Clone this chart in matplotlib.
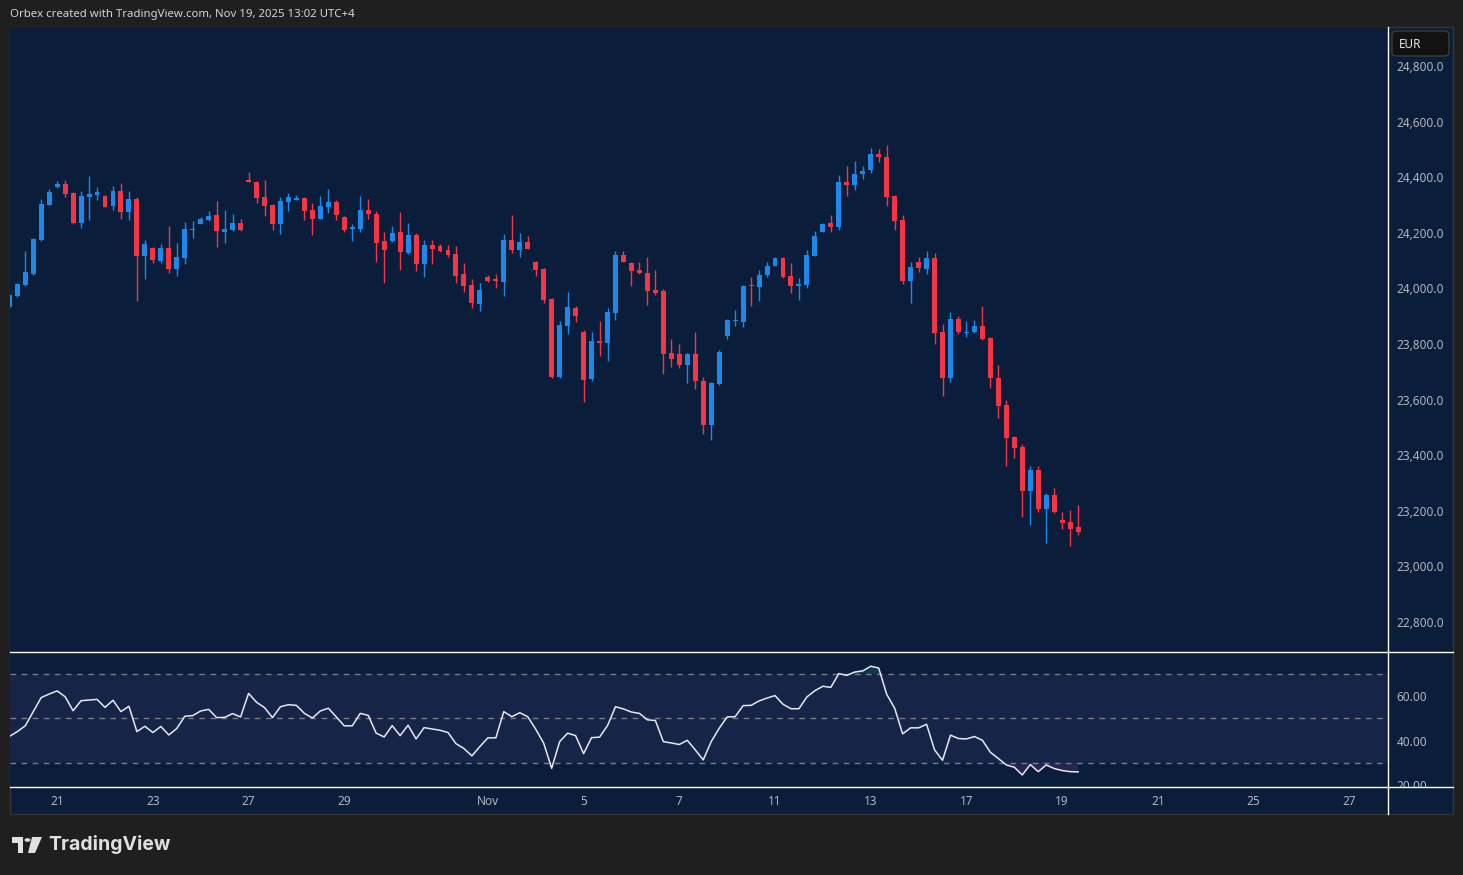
import numpy as np
import matplotlib
matplotlib.use("Agg")
import matplotlib.pyplot as plt
from matplotlib.patches import Rectangle, Polygon, Circle, FancyBboxPatch
from matplotlib.lines import Line2D

# 4h candles, 6 per trading day, starting Oct 20
opens = [23934, 23974, 24012, 24052, 24174, 24300, 24365, 24376, 24343, 24235,
         24329, 24336, 24332, 24296, 24350, 24275, 24322, 24117, 24145, 24099,
         24145, 24070, 24110, 24211, 24232, 24246, 24264, 24203, 24210, 24235,
         24390, 24383, 24329, 24300, 24232, 24311, 24318, 24325, 24282, 24250,
         24293, 24311, 24257, 24215, 24214, 24282, 24268, 24170, 24170, 24203,
         24127, 24192, 24088, 24156, 24152, 24138, 24124, 24052, 24012, 23944,
         24041, 24032, 24023, 24174, 24138, 24167, 24095, 24070, 23962, 23681,
         23865, 23930, 23843, 23674, 23809, 23804, 23912, 24120, 24091, 24066,
         24055, 23994, 23991, 23768, 23764, 23725, 23764, 23667, 23509, 23656,
         23829, 23881, 23879, 24011, 24005, 24048, 24081, 24109, 24045, 24010,
         24012, 24117, 24203, 24235, 24221, 24383, 24372, 24412, 24426, 24483,
         24473, 24332, 24246, 24027, 24095, 24070, 24109, 23843, 23678, 23890,
         23838, 23843, 23865, 23822, 23678, 23581, 23466, 23430, 23271, 23347,
         23207, 23257, 23167, 23160, 23142]
highs = [23980, 24019, 24135, 24180, 24322, 24358, 24386, 24390, 24347, 24350,
         24404, 24365, 24334, 24368, 24379, 24350, 24329, 24174, 24149, 24160,
         24224, 24163, 24239, 24242, 24257, 24278, 24314, 24282, 24268, 24250,
         24419, 24386, 24390, 24304, 24329, 24343, 24336, 24327, 24307, 24332,
         24358, 24318, 24260, 24232, 24332, 24322, 24278, 24203, 24224, 24275,
         24235, 24199, 24174, 24174, 24160, 24156, 24153, 24091, 24034, 24019,
         24048, 24052, 24196, 24264, 24199, 24188, 24097, 24072, 23966, 23883,
         23987, 23937, 23850, 23843, 23883, 23930, 24135, 24135, 24093, 24095,
         24113, 24066, 23998, 23818, 23800, 23766, 23843, 23681, 23662, 23778,
         23890, 23922, 24011, 24041, 24066, 24095, 24113, 24111, 24091, 24037,
         24138, 24207, 24235, 24264, 24408, 24440, 24458, 24440, 24505, 24501,
         24516, 24336, 24264, 24095, 24113, 24135, 24127, 23872, 23915, 23901,
         23883, 23886, 23937, 23825, 23725, 23599, 23468, 23440, 23361, 23361,
         23264, 23282, 23196, 23203, 23221]
lows = [23930, 23969, 24010, 24048, 24172, 24298, 24361, 24329, 24233, 24217,
        24246, 24318, 24291, 24282, 24250, 24246, 23955, 24034, 24091, 24091,
        24055, 24045, 24088, 24181, 24230, 24244, 24149, 24163, 24207, 24208,
        24382, 24307, 24260, 24210, 24196, 24278, 24316, 24246, 24192, 24248,
        24271, 24246, 24203, 24170, 24203, 24250, 24095, 24019, 24168, 24066,
        24125, 24063, 24041, 24088, 24131, 24113, 24019, 23987, 23930, 23919,
        24023, 24001, 23973, 24127, 24113, 24140, 24045, 23948, 23678, 23678,
        23836, 23879, 23591, 23667, 23757, 23739, 23886, 24093, 24009, 24052,
        23940, 23976, 23692, 23717, 23714, 23660, 23638, 23476, 23455, 23654,
        23818, 23865, 23861, 23937, 23955, 24041, 24079, 24039, 23983, 23958,
        24001, 24115, 24201, 24203, 24210, 24332, 24354, 24394, 24415, 24455,
        24296, 24210, 24016, 23948, 24059, 24052, 23800, 23613, 23663, 23836,
        23825, 23840, 23816, 23642, 23534, 23361, 23390, 23178, 23149, 23196,
        23084, 23192, 23135, 23073, 23113]
closes = [23976, 24016, 24059, 24178, 24304, 24347, 24376, 24340, 24235, 24332,
          24340, 24347, 24293, 24350, 24275, 24322, 24117, 24160, 24102, 24145,
          24070, 24113, 24214, 24215, 24250, 24260, 24207, 24214, 24235, 24210,
          24383, 24325, 24296, 24232, 24314, 24329, 24325, 24278, 24250, 24296,
          24311, 24264, 24210, 24219, 24282, 24268, 24163, 24138, 24199, 24131,
          24192, 24088, 24156, 24142, 24135, 24120, 24045, 24009, 23948, 23994,
          24027, 24028, 24174, 24138, 24167, 24142, 24066, 23958, 23681, 23868,
          23933, 23901, 23671, 23811, 23805, 23915, 24120, 24095, 24063, 24055,
          23991, 23983, 23764, 23746, 23725, 23764, 23667, 23509, 23660, 23771,
          23886, 23885, 24009, 24007, 24048, 24081, 24109, 24041, 24009, 24014,
          24120, 24189, 24232, 24221, 24383, 24372, 24412, 24422, 24483, 24473,
          24329, 24242, 24027, 24077, 24073, 24109, 23840, 23678, 23890, 23843,
          23842, 23865, 23818, 23678, 23577, 23462, 23426, 23271, 23347, 23207,
          23257, 23196, 23156, 23135, 23124]
rsi = [41.8, 44.0, 46.6, 53.0, 59.3, 60.9, 62.3, 59.7, 53.4, 57.9,
       58.2, 58.5, 54.9, 58.1, 53.0, 55.4, 44.0, 46.4, 43.6, 46.3,
       42.5, 45.4, 50.9, 51.2, 53.3, 54.0, 50.3, 50.4, 52.1, 50.6,
       61.2, 57.2, 54.8, 50.3, 55.2, 56.1, 55.8, 52.2, 50.1, 53.3,
       54.5, 50.6, 46.6, 46.6, 52.2, 51.3, 43.3, 41.6, 46.7, 42.2,
       46.9, 40.7, 45.8, 45.2, 44.6, 43.6, 38.6, 36.4, 33.1, 37.3,
       41.2, 41.2, 53.0, 50.7, 52.5, 50.7, 45.1, 38.8, 27.5, 39.5,
       43.3, 42.2, 34.1, 41.3, 41.5, 46.7, 55.2, 54.2, 52.8, 52.2,
       49.3, 49.0, 39.5, 38.9, 38.2, 40.1, 35.8, 31.3, 39.5, 45.5,
       50.6, 50.7, 55.7, 55.8, 57.8, 59.1, 60.2, 56.3, 54.3, 54.3,
       59.6, 62.4, 64.4, 63.9, 70.1, 69.3, 70.8, 71.3, 73.4, 72.6,
       60.8, 54.5, 43.0, 45.7, 45.7, 47.3, 35.8, 31.1, 42.4, 40.9,
       40.7, 41.8, 40.1, 34.7, 31.9, 29.0, 28.0, 24.5, 29.2, 26.0,
       29.0, 27.4, 26.5, 26.0, 25.9]

# trading day number (from Oct 20) and label for the date axis
day_num = [1, 3, 5, 7, 10, 12, 14, 16, 18, 20, 22, 24, 26, 28]
day_labels = ['21', '23', '27', '29', 'Nov', '5', '7', '11', '13', '17', '19', '21', '25', '27']
bars_per_day = 6

price_ticks = [22800, 23000, 23200, 23400, 23600, 23800, 24000, 24200, 24400, 24600, 24800]
rsi_ticks = [20, 40, 60]

title = 'Orbex created with TradingView.com, Nov 19, 2025 13:02 UTC+4'

BG = '#1f1f1f'
NAVY = '#0a1e3b'
BAND = '#162447'
UP = '#1e88e8'
DOWN = '#f23645'
TXT = '#b2b5be'

plt.rcParams['font.family'] = ['Noto Sans', 'DejaVu Sans']

W, H = 1463, 875
fig = plt.figure(figsize=(W / 100, H / 100), dpi=100)
fig.patch.set_facecolor(BG)


def fx(px):
    return px / W


def fy(py):
    return 1 - py / H


# chart panel
fig.patches.append(Rectangle((fx(10), fy(814)), fx(1453) - fx(10), fy(27) - fy(814),
                             transform=fig.transFigure, facecolor=NAVY,
                             edgecolor='#353535', lw=1, zorder=-1))

ax = fig.add_axes([fx(10), fy(652), fx(1388) - fx(10), fy(27) - fy(652)])
rx = fig.add_axes([fx(10), fy(787), fx(1388) - fx(10), fy(652) - fy(787)], sharex=ax)

o = np.array(opens, dtype=float)
h = np.array(highs, dtype=float)
l = np.array(lows, dtype=float)
c = np.array(closes, dtype=float)
x = np.arange(len(o))
cols = np.where(c >= o, UP, DOWN)

# candles
ax.vlines(x, l, h, colors=cols, lw=1)
body = np.maximum(np.abs(c - o), 3.6)
ax.bar(x, body, bottom=np.minimum(o, c), width=0.62, color=cols, linewidth=0)

ax.set_xlim(0.09, 172.85)
ax.set_ylim(22692, 24940)
ax.yaxis.tick_right()
ax.set_yticks(price_ticks)
ax.set_yticklabels(['{:,.1f}'.format(p) for p in price_ticks])
ax.tick_params(axis='y', length=0, pad=6, colors=TXT, labelsize=8.5)
ax.tick_params(axis='x', bottom=False, labelbottom=False)

# RSI pane
r = np.array(rsi)
rx.axhspan(30, 70, color=BAND, lw=0)
for lv in [70, 50, 30]:
    rx.axhline(lv, color='#787b86', lw=1, dashes=(4, 4))
rx.fill_between(x, r, 70, where=r > 70, interpolate=True, color='#1b7a6e', alpha=0.3, lw=0)
rx.fill_between(x, r, 30, where=r < 30, interpolate=True, color='#7e3a8a', alpha=0.25, lw=0)
rx.plot(x, r, color='#e6e8ee', lw=1.1)
rx.set_ylim(19.1, 79.8)
rx.yaxis.tick_right()
rx.set_yticks(rsi_ticks)
rx.set_yticklabels(['{:.2f}'.format(v) for v in rsi_ticks])
rx.tick_params(axis='y', length=0, pad=6, colors=TXT, labelsize=8.5)
rx.set_xticks([d * bars_per_day for d in day_num])
rx.set_xticklabels(day_labels)
rx.tick_params(axis='x', length=0, pad=6, colors=TXT, labelsize=8.5)

for a in (ax, rx):
    a.set_facecolor(NAVY)
    for s in a.spines.values():
        s.set_visible(False)

# hide lower half of the cut 20.00 label, like the source
fig.patches.append(Rectangle((fx(1389), fy(813)), fx(1452) - fx(1389), fy(788) - fy(813),
                             transform=fig.transFigure, facecolor=NAVY, lw=0, zorder=5))

# separators
for y0 in (652, 787):
    fig.add_artist(Line2D([fx(10), fx(1453)], [fy(y0), fy(y0)], transform=fig.transFigure,
                          color='white', lw=1, zorder=6))
fig.add_artist(Line2D([fx(1388), fx(1388)], [fy(27), fy(814)], transform=fig.transFigure,
                      color='white', lw=1, zorder=6))

# currency box
fig.patches.append(FancyBboxPatch((fx(1392), fy(56)), fx(1449) - fx(1392), fy(31) - fy(56),
                                  boxstyle='round,pad=0,rounding_size=0.004',
                                  transform=fig.transFigure, facecolor='#121212',
                                  edgecolor='#3c3c3c', lw=1, zorder=6))
fig.text(fx(1399), fy(44), 'EUR', color='#e0e3eb', fontsize=8.5, va='center', zorder=7)

fig.text(fx(10), fy(14), title, color='#d1d4dc', fontsize=8.2, va='center')

# TradingView logo
logo = '#e0e0e0'
fig.patches.append(Rectangle((fx(12), fy(843)), fx(23) - fx(12), fy(837) - fy(843),
                             transform=fig.transFigure, facecolor=logo, lw=0))
fig.patches.append(Rectangle((fx(18), fy(853)), fx(23) - fx(18), fy(843) - fy(853),
                             transform=fig.transFigure, facecolor=logo, lw=0))
fig.patches.append(Circle((fx(27.5), fy(840)), fx(3), transform=fig.transFigure,
                          facecolor=logo, lw=0))
fig.patches.append(Polygon([(fx(32), fy(837)), (fx(42), fy(837)), (fx(35), fy(853)), (fx(28), fy(853))],
                           closed=True, transform=fig.transFigure, facecolor=logo, lw=0))
fig.text(fx(48), fy(845), 'TradingView', color=logo, fontsize=14, fontweight='bold',
         family=['Inter', 'DejaVu Sans'], va='center')

fig.savefig('out.png', dpi=100, facecolor=BG)
